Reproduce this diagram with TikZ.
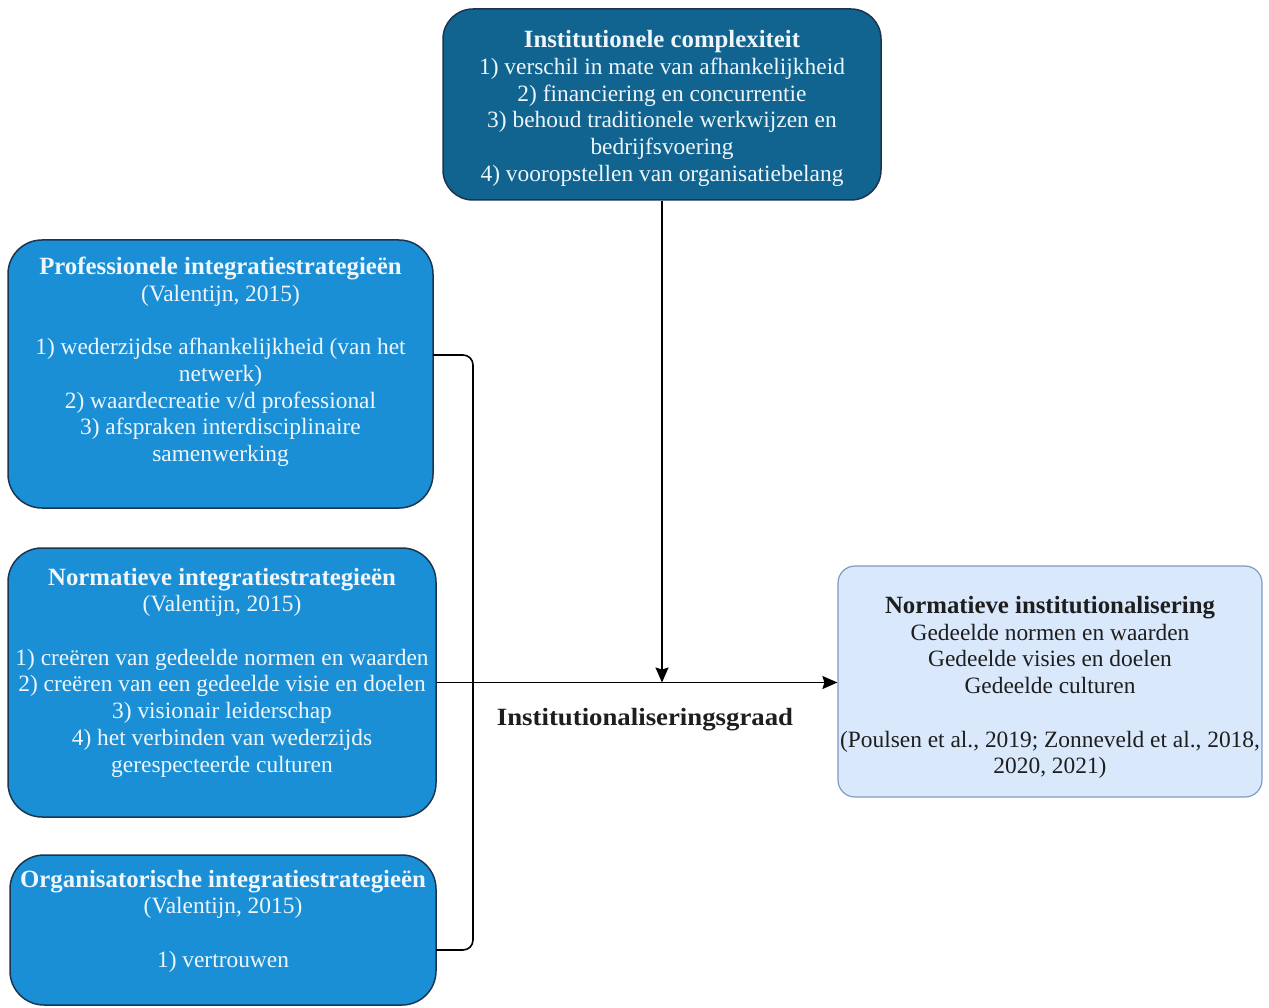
\documentclass[tikz,border=0pt]{standalone}
\usepackage{fontspec}
\usepackage{graphicx}
\setmainfont{Liberation Serif}
\usetikzlibrary{arrows.meta}
\definecolor{deepblue}{HTML}{10648F}
\definecolor{midblue}{HTML}{1A8FD6}
\definecolor{boxedge}{HTML}{1B3550}
\definecolor{paleblue}{HTML}{DAE8FC}
\definecolor{paleedge}{HTML}{7D9CC4}
\definecolor{lighttext}{HTML}{EEF6FB}
\definecolor{darktext}{HTML}{1E1E1E}
\newcommand{\headline}[1]{{\fontsize{24.8}{26.7}\selectfont\bfseries #1}}
\tikzset{
  basefont/.style={font=\fontsize{23.4}{26.7}\selectfont},
  stratbox/.style={draw=boxedge, line width=1.5pt, fill=midblue, rounded corners=34pt, inner sep=0pt},
  topbox/.style={draw=boxedge, line width=1.5pt, fill=deepblue, rounded corners=30pt, inner sep=0pt},
  resultbox/.style={draw=paleedge, line width=1.2pt, fill=paleblue, rounded corners=17pt, inner sep=0pt},
  lighttxt/.style={basefont, text=lighttext, align=center, inner sep=0pt},
  darktxt/.style={basefont, text=darktext, align=center, inner sep=0pt},
  conn/.style={draw=black, line width=1.6pt},
  arrowconn/.style={conn, -{Stealth[length=15pt,width=13pt,inset=2pt]}}
}
\begin{document}
\begin{tikzpicture}[x=1pt,y=-1pt]
\useasboundingbox[fill=white] (0,0) rectangle (1269,1008);

% boxes
\node[topbox, minimum width=438pt, minimum height=191pt] (top) at (662,104.5) {};
\node[stratbox, minimum width=425pt, minimum height=268pt] (prof) at (220.5,374) {};
\node[stratbox, minimum width=428pt, minimum height=269pt] (norm) at (222,682.5) {};
\node[stratbox, minimum width=426pt, minimum height=150pt] (org) at (223,930) {};
\node[resultbox, minimum width=424pt, minimum height=231pt] (res) at (1050,681.5) {};

% box texts
\node[lighttxt] (topT) at ([yshift=-4pt]top.center) {\headline{Institutionele complexiteit}\\
1) verschil in mate van afhankelijkheid\\
2) financiering en concurrentie\\
3) behoud traditionele werkwijzen en\\
bedrijfsvoering\\
4) vooropstellen van organisatiebelang};

\node[lighttxt] (profT) at ([yshift=12pt]prof.center) {\headline{Professionele integratiestrategieën}\\
(Valentijn, 2015)\\[26.7pt]
1) wederzijdse afhankelijkheid (van het\\
netwerk)\\
2) waardecreatie v/d professional\\
3) afspraken interdisciplinaire\\
samenwerking};

\node[lighttxt] (normT) at ([yshift=10pt]norm.center) {\headline{Normatieve integratiestrategieën}\\
(Valentijn, 2015)\\[26.7pt]
1) creëren van gedeelde normen en waarden\\
2) creëren van een gedeelde visie en doelen\\
3) visionair leiderschap\\
4) het verbinden van wederzijds\\
gerespecteerde culturen};

\node[lighttxt] (orgT) at ([yshift=9pt]org.center) {\headline{Organisatorische integratiestrategieën}\\
(Valentijn, 2015)\\[26.7pt]
1) vertrouwen};

\node[darktxt] (resT) at ([yshift=-6pt]res.center) {\headline{Normatieve institutionalisering}\\
Gedeelde normen en waarden\\
Gedeelde visies en doelen\\
Gedeelde culturen\\[26.7pt]
(Poulsen et al., 2019; Zonneveld et al., 2018,\\
2020, 2021)};

% label under the main arrow
\node[text=darktext, inner sep=0pt] (grade) at (645,720) {\scalebox{1.08}[1]{\headline{Institutionaliseringsgraad}}};

% bracket joining the strategy boxes
\coordinate (pA) at (433,355);
\coordinate (oA) at (436,950);
\coordinate (bus) at (473,0);
\draw[conn, rounded corners=10pt] (pA) -- (pA -| bus) -- (oA -| bus) -- (oA);

% main arrow and complexity arrow
\draw[arrowconn] (norm.east) -- (norm.east -| res.west);
\draw[arrowconn] (top.south) -- (top.south |- norm.east);
\end{tikzpicture}
\end{document}
